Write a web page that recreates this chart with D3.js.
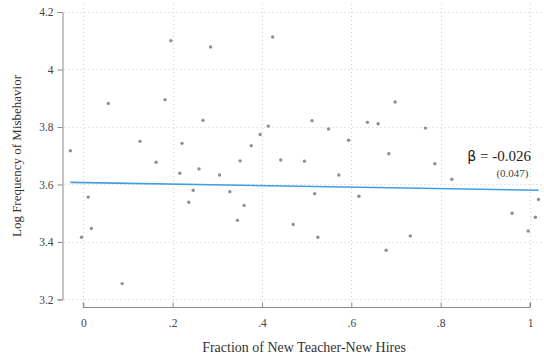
<!DOCTYPE html>
<html>
<head>
<meta charset="utf-8">
<script src="https://cdn.jsdelivr.net/npm/d3@7"></script>
<style>
  html, body { margin: 0; padding: 0; background: #fff; }
  svg { display: block; }
</style>
</head>
<body>
<svg id="chart" width="544" height="358"></svg>
<script>
// Binned scatter: share of new-teacher hires vs. log misbehavior frequency
const fracNewHires = [-0.029, -0.004, 0.011, 0.018, 0.056, 0.087, 0.127, 0.163, 0.183, 0.196,
  0.216, 0.221, 0.236, 0.246, 0.259, 0.268, 0.285, 0.305, 0.328, 0.345,
  0.351, 0.360, 0.376, 0.396, 0.414, 0.424, 0.442, 0.470, 0.495, 0.512,
  0.518, 0.525, 0.549, 0.572, 0.594, 0.617, 0.636, 0.660, 0.678, 0.684,
  0.698, 0.732, 0.766, 0.787, 0.825, 0.960, 0.996, 1.012, 1.019];
const logMisbehavior = [3.717, 3.416, 3.556, 3.447, 3.882, 3.255, 3.750, 3.677, 3.895, 4.100,
  3.639, 3.743, 3.538, 3.580, 3.654, 3.823, 4.078, 3.633, 3.575, 3.475,
  3.682, 3.527, 3.735, 3.774, 3.803, 4.113, 3.685, 3.461, 3.681, 3.822,
  3.568, 3.416, 3.793, 3.633, 3.754, 3.559, 3.816, 3.811, 3.371, 3.707,
  3.887, 3.421, 3.796, 3.672, 3.618, 3.500, 3.438, 3.486, 3.548];

// Linear fit
const fitIntercept = [3.6065];
const fitSlope = [-0.026];
const fitSE = [0.047];

const xTicks = [0, 0.2, 0.4, 0.6, 0.8, 1];
const xTickLabels = ["0", ".2", ".4", ".6", ".8", "1"];
const yTicks = [3.2, 3.4, 3.6, 3.8, 4.0, 4.2];
const yTickLabels = ["3.2", "3.4", "3.6", "3.8", "4", "4.2"];

const SERIF = "'Liberation Serif', 'Times New Roman', serif";

const svg = d3.select("#chart");
const x = d3.scaleLinear().domain([0, 1]).range([83.3, 530]);
const y = d3.scaleLinear().domain([3.2, 4.2]).range([299.4, 12]);

const plotLeft = 62.5, plotRight = 542, plotTop = 4, plotBottom = 301;

// grid
const grid = svg.append("g").attr("stroke", "#cfcfcf").attr("stroke-width", 1)
  .attr("stroke-dasharray", "1,3");
grid.selectAll("line.h").data(yTicks).join("line")
  .attr("x1", plotLeft + 2).attr("x2", plotRight)
  .attr("y1", d => Math.round(y(d)) + 0.5).attr("y2", d => Math.round(y(d)) + 0.5);
grid.selectAll("line.v").data(xTicks).join("line")
  .attr("y1", plotTop).attr("y2", plotBottom)
  .attr("x1", d => Math.round(x(d)) + 0.5).attr("x2", d => Math.round(x(d)) + 0.5);

// y axis
const yAxis = d3.axisLeft(y).tickValues(yTicks)
  .tickFormat((d, i) => yTickLabels[i]).tickSize(5).tickPadding(4);
const gy = svg.append("g").attr("transform", `translate(${plotLeft},0)`).call(yAxis)
  .attr("font-family", SERIF);
gy.select(".domain").attr("stroke", "#8a8a8a");
gy.selectAll(".tick line").attr("stroke", "#8a8a8a");
gy.selectAll(".tick text").style("font-family", SERIF)
  .style("font-size", "11.5px").attr("fill", "#444");

// x axis
const xAxis = d3.axisBottom(x).tickValues(xTicks)
  .tickFormat((d, i) => xTickLabels[i]).tickSize(5).tickPadding(6);
const gx = svg.append("g").attr("transform", `translate(0,307.5)`).call(xAxis)
  .attr("font-family", SERIF);
gx.select(".domain").attr("stroke", "#8a8a8a").attr("d", `M${x(0)},-5V0H${x(1)}V-5`);
gx.selectAll(".tick line").attr("stroke", "#8a8a8a").attr("y2", -5);
gx.selectAll(".tick text").style("font-family", SERIF)
  .style("font-size", "11.5px").attr("fill", "#444");

// points
svg.append("g").selectAll("circle").data(fracNewHires).join("circle")
  .attr("cx", d => x(d)).attr("cy", (d, i) => y(logMisbehavior[i]))
  .attr("r", 1.7).attr("fill", "#8f8f8f");

// fitted line
const xMin = d3.min(fracNewHires), xMax = d3.max(fracNewHires);
const fit = d => fitIntercept[0] + fitSlope[0] * d;
svg.append("path")
  .attr("d", d3.line().x(d => x(d)).y(d => y(fit(d)))([xMin, xMax]))
  .attr("stroke", "#3f9fe2").attr("stroke-width", 1.6).attr("fill", "none");

// coefficient annotation
const ann = svg.append("text").attr("x", 531).attr("y", 161).attr("text-anchor", "end")
  .style("font-family", SERIF).style("font-size", "15px").style("fill", "#222");
ann.append("tspan").text("β").style("font-family", "'DejaVu Sans', sans-serif").style("font-size", "14px");
ann.append("tspan").text(" = " + fitSlope[0].toFixed(3));
svg.append("text").attr("x", 528.5).attr("y", 176.5).attr("text-anchor", "end")
  .style("font-family", SERIF).style("font-size", "11px").style("fill", "#444")
  .text("(" + fitSE[0].toFixed(3) + ")");

// axis titles
svg.append("text").attr("x", 304).attr("y", 352).attr("text-anchor", "middle")
  .style("font-family", SERIF).style("font-size", "14px").style("fill", "#333")
  .text("Fraction of New Teacher-New Hires");
svg.append("text").attr("transform", "translate(20.5,156) rotate(-90)")
  .attr("text-anchor", "middle").style("font-family", SERIF)
  .style("font-size", "13px").style("fill", "#333")
  .text("Log Frequency of Misbehavior");
</script>
</body>
</html>
